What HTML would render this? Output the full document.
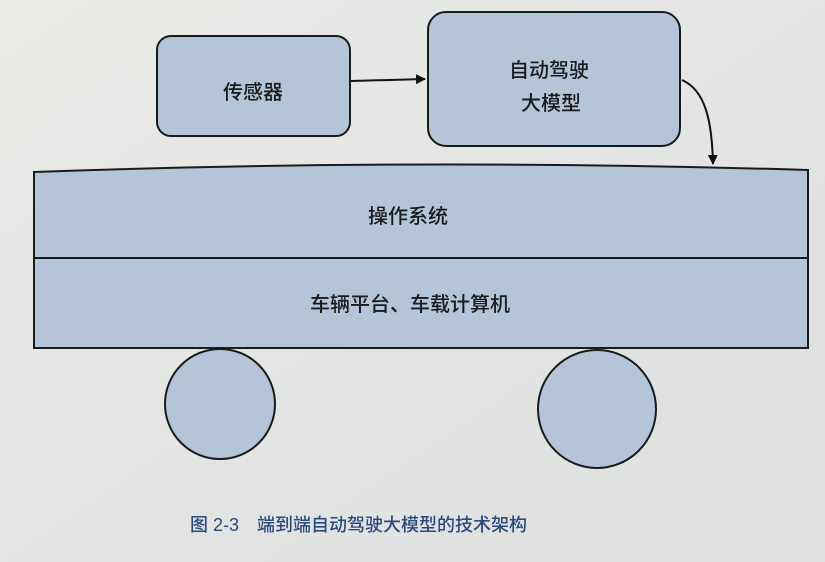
<!DOCTYPE html>
<html><head><meta charset="utf-8"><style>
html,body{margin:0;padding:0;width:825px;height:562px;overflow:hidden;background:#e4e6e6;}
svg{display:block}
text{font-family:"Liberation Sans","Noto Sans CJK SC",sans-serif;fill:#1a1a1a;font-weight:500;}
</style></head><body>
<svg width="825" height="562" viewBox="0 0 825 562">
<defs>
<linearGradient id="bg" x1="0" y1="0" x2="1" y2="1">
<stop offset="0" stop-color="#eaebe7"/><stop offset="1" stop-color="#dddfe1"/>
</linearGradient>
<marker id="ar" markerWidth="10" markerHeight="10" refX="9" refY="5" orient="auto" markerUnits="userSpaceOnUse">
<path d="M0,0 L10,5 L0,10 Z" fill="#111"/></marker>
</defs>
<rect width="825" height="562" fill="url(#bg)"/>
<rect x="157" y="36" width="193" height="100" rx="14" fill="#b4c5da" stroke="#1a1a1a" stroke-width="2"/>
<text x="253" y="99" font-size="20" text-anchor="middle">传感器</text>
<rect x="428" y="12" width="252" height="134" rx="18" fill="#b4c5da" stroke="#1a1a1a" stroke-width="2"/>
<text x="549" y="77" font-size="20" text-anchor="middle">自动驾驶</text>
<text x="551" y="110" font-size="20" text-anchor="middle">大模型</text>
<line x1="351" y1="81" x2="425" y2="79" stroke="#111" stroke-width="2" marker-end="url(#ar)"/>
<path d="M682,80 C705,90 712,120 713,164" fill="none" stroke="#111" stroke-width="2" marker-end="url(#ar)"/>
<path d="M34,172 Q420,158 808,170 L808,348 L34,348 Z" fill="#b4c5da" stroke="#1a1a1a" stroke-width="2"/>
<line x1="34" y1="258" x2="808" y2="258" stroke="#1a1a1a" stroke-width="2"/>
<text x="408" y="223" font-size="20" text-anchor="middle">操作系统</text>
<text x="410" y="311" font-size="20" text-anchor="middle">车辆平台、车载计算机</text>
<circle cx="220" cy="404" r="55" fill="#b4c5da" stroke="#1a1a1a" stroke-width="2"/>
<circle cx="597" cy="409" r="59" fill="#b4c5da" stroke="#1a1a1a" stroke-width="2"/>
<text x="190" y="531" font-size="18" style="fill:#2a4a7a">图 2-3　端到端自动驾驶大模型的技术架构</text>
</svg>
</body></html>
